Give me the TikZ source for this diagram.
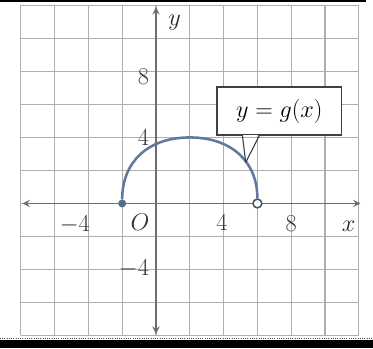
\documentclass[tikz,border=0pt]{standalone}
\usepackage{amsmath}
\usetikzlibrary{arrows,positioning,calc}
\definecolor{gridgray}{RGB}{175,175,175}
\definecolor{axisgray}{RGB}{110,110,110}
\definecolor{curveblue}{RGB}{95,120,155}

\begin{document}
\begin{tikzpicture}[
    x=0.4225cm, y=0.4125cm,
    gridline/.style={draw=gridgray, line width=0.8pt},
    axis/.style={<->, >=stealth, draw=axisgray, line width=1.3pt},
    graph/.style={draw=curveblue, line width=1.8pt},
    tick/.style={font=\fontsize{19}{22}\selectfont, text=black!80, inner sep=0pt},
    axislabel/.style={font=\fontsize{19}{22}\selectfont, text=black!85, inner sep=0pt},
    closeddot/.style={circle, fill=curveblue!90!black, minimum size=0.2cm, inner sep=0pt},
    opendot/.style={circle, draw=curveblue!70!black, fill=white, line width=1.1pt, minimum size=0.22cm, inner sep=0pt},
    callout/.style={rectangle, draw=black!75, fill=white, line width=0.8pt, minimum width=3.12cm, minimum height=1.2cm, font=\fontsize{19}{22}\selectfont},
]

\useasboundingbox (-9.23,-8.76) rectangle (12.84,12.33);

% Scan edges
\fill[black] (-9.23,12.2) rectangle (12.4,12.33);
\draw[black!70, densely dotted, line width=0.6pt] (-9.23,-8.15) -- (12.84,-8.15);
\fill[black] (-9.23,-8.28) rectangle (12.84,-8.76);

% Grid
\draw[gridline] (-8,-8) grid[step=2] (12,12);

% Axes
\coordinate (xmin) at (-7.9,0);
\coordinate (xmax) at (12.1,0);
\coordinate (ymin) at (0,-7.9);
\coordinate (ymax) at (0,11.9);
\draw[axis] (xmin) -- (xmax);
\draw[axis] (ymin) -- (ymax);

% Labels
\node[axislabel] (xlab) at (11.4,-1.4) {$x$};
\node[axislabel] (ylab) at (1.1,10.95) {$y$};
\node[tick] (o) at (-0.95,-1.15) {$O$};
\node[tick, anchor=north east] (xm4) at (-3.9,-0.75) {$-4$};
\node[tick] (x4) at (3.9,-1.15) {$4$};
\node[tick] (x8) at (8,-1.2) {$8$};
\node[tick, anchor=east] (y8) at (-0.4,7.7) {$8$};
\node[tick, anchor=east] (y4) at (-0.4,4.0) {$4$};
\node[tick, anchor=east] (ym4) at (-0.4,-3.95) {$-4$};

% Graph
\node[closeddot] (start) at (-2,0) {};
\node[opendot] (end) at (6,0) {};
\draw[graph] (start) .. controls (-2,2.5) and (-0.5,4) .. (2,4) .. controls (4.5,4) and (6,2.5) .. (end);

% Callout
\node[callout] (gx) at (7.3,5.6) {$y = g(x)$};
\coordinate (tip) at (5.31,2.49);
\coordinate (pl) at ($(gx.south west)+(1.54,0)$);
\coordinate (pr) at ($(gx.south west)+(2.54,0)$);
\fill[white] ($(pl)+(0.6pt,0.6pt)$) rectangle ($(pr)+(-0.6pt,-0.6pt)$);
\draw[black!75, line width=0.8pt, line join=round] (pl) -- (tip) -- (pr);

\end{tikzpicture}
\end{document}
